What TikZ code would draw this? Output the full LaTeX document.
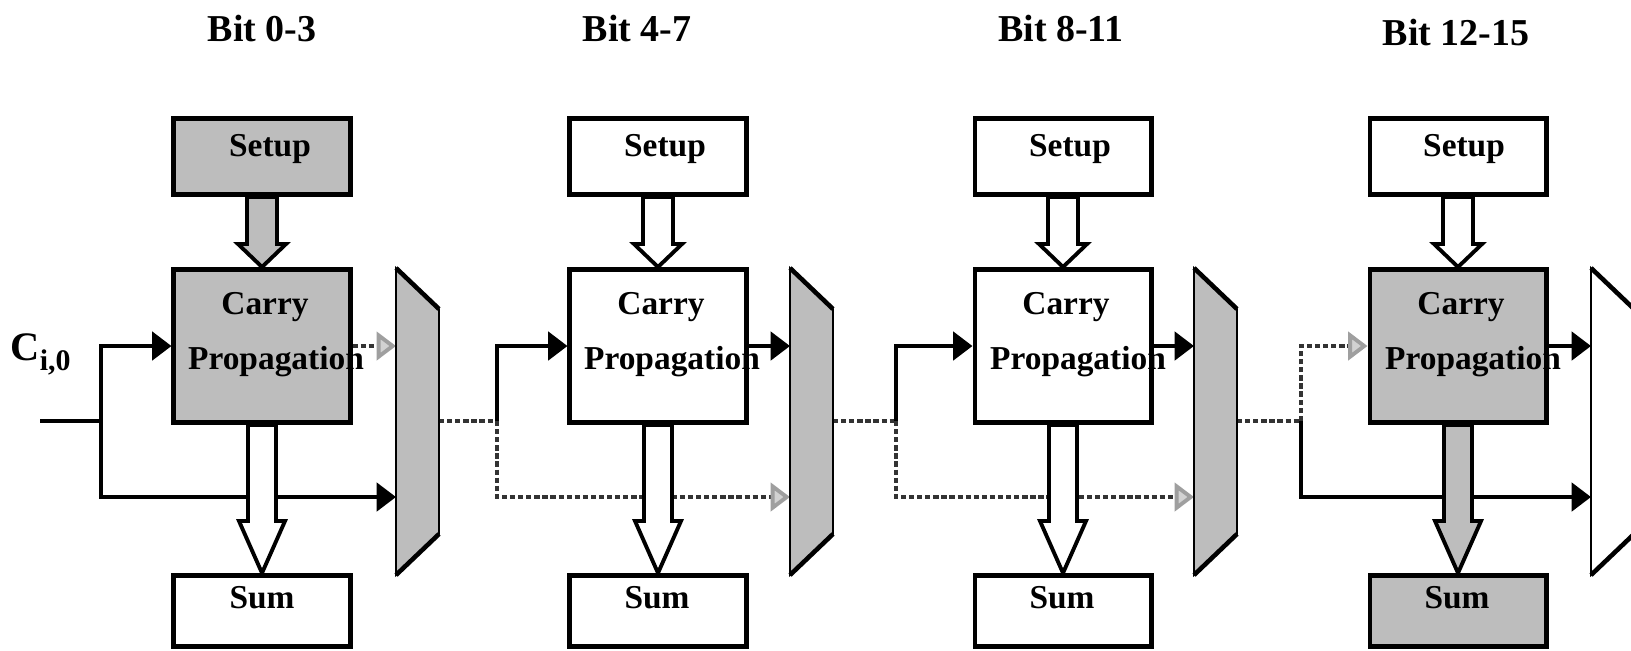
\documentclass[tikz,border=0pt]{standalone}
\usepackage{fontspec}
\setmainfont{Liberation Serif}
\usetikzlibrary{arrows.meta,backgrounds,calc}
\colorlet{shadegray}{gray!52}

\begin{document}
\begin{tikzpicture}[x=0.01cm,y=-0.01cm,
  >={Triangle[length=5.5pt,width=8pt]},
  box/.style={draw,line width=1.4pt,minimum width=1.76cm,inner sep=0pt},
  setupbox/.style={box,minimum height=0.76cm},
  carrybox/.style={box,minimum height=1.53cm},
  sumbox/.style={box,minimum height=0.71cm},
  shaded/.style={fill=shadegray},
  boxtext/.style={anchor=base,inner sep=0pt,font=\bfseries\fontsize{9.5}{11}\selectfont},
  bittext/.style={anchor=base,inner sep=0pt,font=\bfseries\fontsize{10.8}{12}\selectfont},
  wire/.style={line width=1.2pt},
  dotwire/.style={line width=1.1pt,black!80,dash pattern=on 1.5pt off 0.8pt},
  dotarrow/.style={dotwire,-{Triangle[length=5.5pt,width=8pt,fill=gray!35,color=gray!75]}},
  bigarrow/.style={line width=1.1pt,line join=miter},
  muxbody/.style={line width=0.5pt},
  muxedge/.style={line width=1.3pt}]
\useasboundingbox (0,0) rectangle (1631,650);

% bits 0-3
\node[bittext] (bit1) at (262,41) {Bit 0-3};
\node[setupbox,shaded] (setup1) at (262,156.5) {};
\node[carrybox,shaded] (carry1) at (262,346) {};
\node[sumbox] (sum1) at (262,611) {};
\node[boxtext] (lsetup1) at (270,156) {Setup};
\node[boxtext] (lcarry1) at (265,314) {Carry};
\node[boxtext] (lprop1) at (276,369) {Propagation};
\node[boxtext] (lsum1) at (262,608) {Sum};
\node[anchor=base west,inner sep=0pt,font=\bfseries\fontsize{11.5}{13}\selectfont] (cin) at (10,360)
  {C\raisebox{-0.55ex}{\fontsize{8.5}{10}\selectfont i,0}};
\coordinate (cin0) at (40,421);
\coordinate (j1) at (101,421);
\draw[muxbody,fill=shadegray] (396,268) -- (439,309) -- (439,534) -- (396,575) -- cycle;
\draw[muxedge] (396,268) -- (439,309) (439,534) -- (396,575);
\coordinate (m1a) at (396,346);
\coordinate (m1b) at (396,497);
\coordinate (m1o) at (439,421);

% bits 4-7
\node[bittext] (bit2) at (637,41) {Bit 4-7};
\node[setupbox] (setup2) at (658,156.5) {};
\node[carrybox] (carry2) at (658,346) {};
\node[sumbox] (sum2) at (658,611) {};
\node[boxtext] (lsetup2) at (665,156) {Setup};
\node[boxtext] (lcarry2) at (661,314) {Carry};
\node[boxtext] (lprop2) at (672,369) {Propagation};
\node[boxtext] (lsum2) at (657,608) {Sum};
\coordinate (j2) at (497,421);
\draw[muxbody,fill=shadegray] (790,268) -- (833,309) -- (833,534) -- (790,575) -- cycle;
\draw[muxedge] (790,268) -- (833,309) (833,534) -- (790,575);
\coordinate (m2a) at (790,346);
\coordinate (m2b) at (790,497);
\coordinate (m2o) at (833,421);

% bits 8-11
\node[bittext] (bit3) at (1061,41) {Bit 8-11};
\node[setupbox] (setup3) at (1063,156.5) {};
\node[carrybox] (carry3) at (1063,346) {};
\node[sumbox] (sum3) at (1063,611) {};
\node[boxtext] (lsetup3) at (1070,156) {Setup};
\node[boxtext] (lcarry3) at (1066,314) {Carry};
\node[boxtext] (lprop3) at (1078,369) {Propagation};
\node[boxtext] (lsum3) at (1062,608) {Sum};
\coordinate (j3) at (896,421);
\draw[muxbody,fill=shadegray] (1194,268) -- (1237,309) -- (1237,534) -- (1194,575) -- cycle;
\draw[muxedge] (1194,268) -- (1237,309) (1237,534) -- (1194,575);
\coordinate (m3a) at (1194,346);
\coordinate (m3b) at (1194,497);
\coordinate (m3o) at (1237,421);

% bits 12-15
\node[bittext] (bit4) at (1456,45) {Bit 12-15};
\node[setupbox] (setup4) at (1458,156.5) {};
\node[carrybox,shaded] (carry4) at (1458,346) {};
\node[sumbox,shaded] (sum4) at (1458,611) {};
\node[boxtext] (lsetup4) at (1464,156) {Setup};
\node[boxtext] (lcarry4) at (1461,314) {Carry};
\node[boxtext] (lprop4) at (1473,369) {Propagation};
\node[boxtext] (lsum4) at (1457,608) {Sum};
\coordinate (j4) at (1301,421);
\begin{scope}
\clip (0,0) rectangle (1631,650);
\draw[muxbody,fill=white] (1591,268) -- (1634,309) -- (1634,534) -- (1591,575) -- cycle;
\draw[muxedge] (1591,268) -- (1634,309) (1634,534) -- (1591,575);
\end{scope}
\coordinate (m4a) at (1591,346);
\coordinate (m4b) at (1591,497);

\begin{pgfonlayer}{background}
% carry wires
\draw[wire] (cin0) -- (j1);
\draw[wire,->] (j1) |- (carry1.west);
\draw[wire,->] (j1) |- (m1b);
\draw[dotarrow] (carry1.east) -- (m1a);

\draw[dotwire] (m1o) -- (j2);
\draw[wire,->] (j2) |- (carry2.west);
\draw[dotarrow] (j2) |- (m2b);
\draw[wire,->] (carry2.east) -- (m2a);

\draw[dotwire] (m2o) -- (j3);
\draw[wire,->] (j3) |- (carry3.west);
\draw[dotarrow] (j3) |- (m3b);
\draw[wire,->] (carry3.east) -- (m3a);

\draw[dotwire] (m3o) -- (j4);
\draw[dotarrow] (j4) |- (carry4.west);
\draw[wire,->] (j4) |- (m4b);
\draw[wire,->] (carry4.east) -- (m4a);

% block arrows
\draw[bigarrow,fill=shadegray] ($(setup1.south)+(-15,0)$) -- ($(carry1.north)+(-15,-23)$) -- ($(carry1.north)+(-24,-23)$) -- (carry1.north)
  -- ($(carry1.north)+(24,-23)$) -- ($(carry1.north)+(15,-23)$) -- ($(setup1.south)+(15,0)$) -- cycle;
\draw[bigarrow,fill=white] ($(carry1.south)+(-14,0)$) -- ($(sum1.north)+(-14,-52)$) -- ($(sum1.north)+(-23,-52)$) -- (sum1.north)
  -- ($(sum1.north)+(23,-52)$) -- ($(sum1.north)+(14,-52)$) -- ($(carry1.south)+(14,0)$) -- cycle;

\draw[bigarrow,fill=white] ($(setup2.south)+(-15,0)$) -- ($(carry2.north)+(-15,-23)$) -- ($(carry2.north)+(-24,-23)$) -- (carry2.north)
  -- ($(carry2.north)+(24,-23)$) -- ($(carry2.north)+(15,-23)$) -- ($(setup2.south)+(15,0)$) -- cycle;
\draw[bigarrow,fill=white] ($(carry2.south)+(-14,0)$) -- ($(sum2.north)+(-14,-52)$) -- ($(sum2.north)+(-23,-52)$) -- (sum2.north)
  -- ($(sum2.north)+(23,-52)$) -- ($(sum2.north)+(14,-52)$) -- ($(carry2.south)+(14,0)$) -- cycle;

\draw[bigarrow,fill=white] ($(setup3.south)+(-15,0)$) -- ($(carry3.north)+(-15,-23)$) -- ($(carry3.north)+(-24,-23)$) -- (carry3.north)
  -- ($(carry3.north)+(24,-23)$) -- ($(carry3.north)+(15,-23)$) -- ($(setup3.south)+(15,0)$) -- cycle;
\draw[bigarrow,fill=white] ($(carry3.south)+(-14,0)$) -- ($(sum3.north)+(-14,-52)$) -- ($(sum3.north)+(-23,-52)$) -- (sum3.north)
  -- ($(sum3.north)+(23,-52)$) -- ($(sum3.north)+(14,-52)$) -- ($(carry3.south)+(14,0)$) -- cycle;

\draw[bigarrow,fill=white] ($(setup4.south)+(-15,0)$) -- ($(carry4.north)+(-15,-23)$) -- ($(carry4.north)+(-24,-23)$) -- (carry4.north)
  -- ($(carry4.north)+(24,-23)$) -- ($(carry4.north)+(15,-23)$) -- ($(setup4.south)+(15,0)$) -- cycle;
\draw[bigarrow,fill=shadegray] ($(carry4.south)+(-14,0)$) -- ($(sum4.north)+(-14,-52)$) -- ($(sum4.north)+(-23,-52)$) -- (sum4.north)
  -- ($(sum4.north)+(23,-52)$) -- ($(sum4.north)+(14,-52)$) -- ($(carry4.south)+(14,0)$) -- cycle;
\end{pgfonlayer}
\end{tikzpicture}
\end{document}
